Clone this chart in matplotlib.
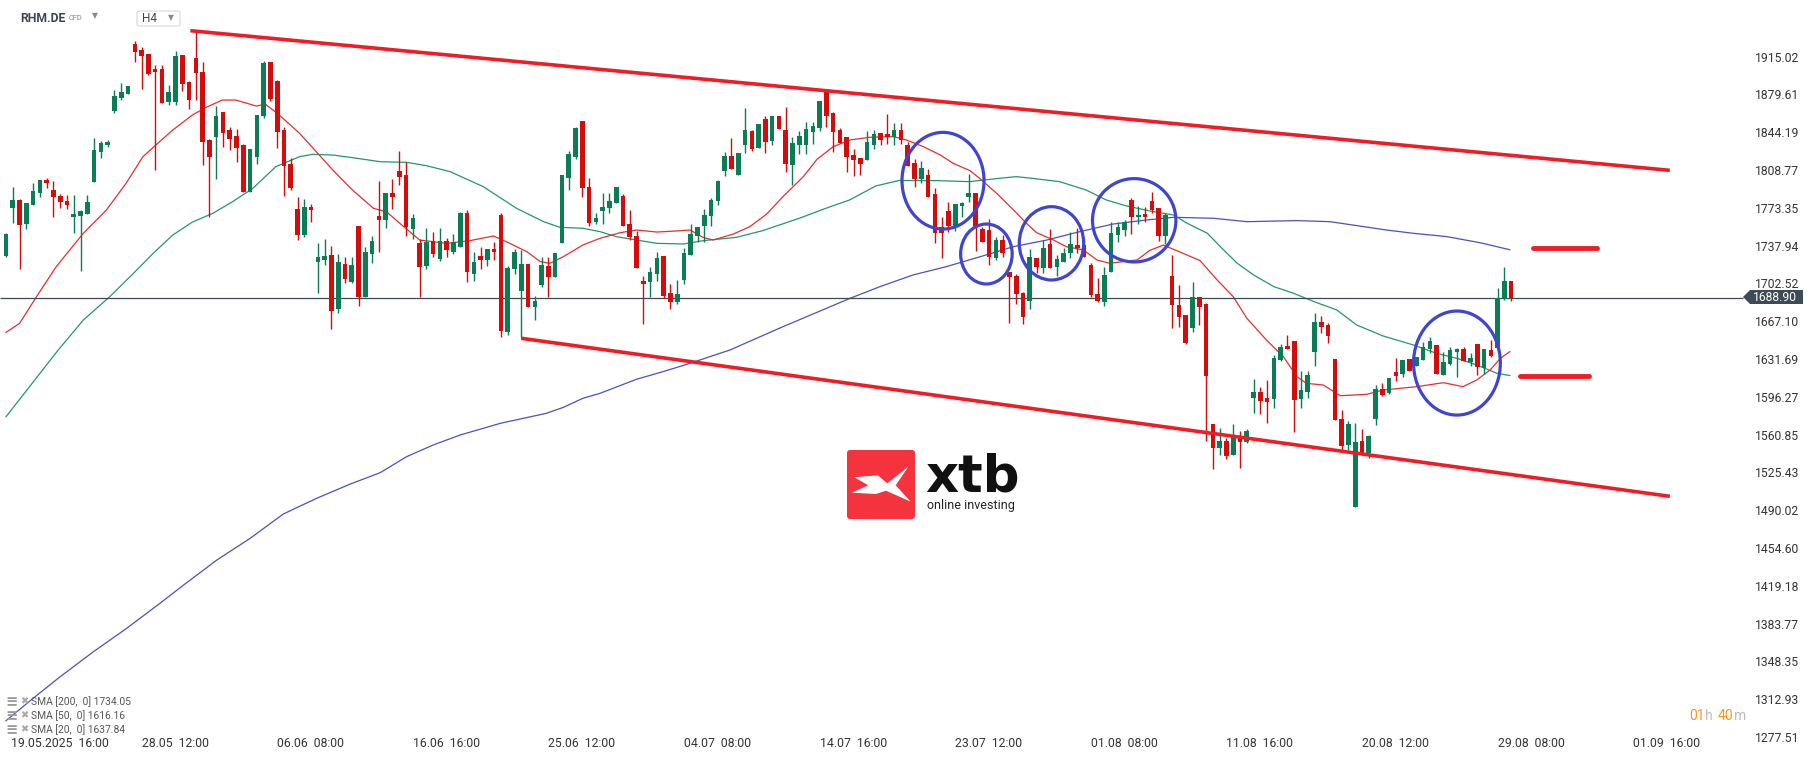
import matplotlib
matplotlib.use('Agg')
import matplotlib.pyplot as plt
from matplotlib.patches import Ellipse, Polygon, FancyBboxPatch
from matplotlib.transforms import IdentityTransform, ScaledTranslation

W, H = 1815, 761

# --- candles (H4) ---------------------------------------------------------
opens = [
    1728.5, 1773.5, 1780.7, 1758.5, 1776.3, 1787.6, 1799.4, 1790.1, 1784.5, 1779.8,
    1765.1, 1766.0, 1767.9, 1797.9, 1825.4, 1832.6, 1864.4, 1876.6, 1880.4, 1926.9,
    1921.3, 1917.5, 1903.2, 1903.5, 1872.9, 1872.9, 1916.6, 1891.3, 1913.8, 1900.7,
    1837.2, 1840.1, 1862.9, 1846.3, 1840.7, 1832.6, 1788.5, 1821.3, 1859.4, 1910.0,
    1892.2, 1846.3, 1814.4, 1772.3, 1747.9, 1774.1, 1722.9, 1724.5, 1729.2, 1678.2,
    1720.4, 1704.2, 1756.3, 1689.5, 1729.8, 1765.7, 1762.0, 1787.6, 1807.9, 1804.1,
    1753.2, 1740.7, 1719.2, 1742.0, 1725.1, 1742.3, 1732.0, 1737.0, 1768.2, 1711.4,
    1728.3, 1724.5, 1734.8, 1766.7, 1657.3, 1716.4, 1695.8, 1720.8, 1680.8, 1701.1,
    1718.9, 1708.9, 1740.8, 1801.7, 1820.7, 1855.1, 1792.6, 1760.4, 1770.7, 1773.6,
    1778.2, 1784.5, 1758.2, 1747.0, 1704.8, 1703.6, 1711.1, 1728.3, 1693.3, 1685.5,
    1705.8, 1729.5, 1747.3, 1756.7, 1766.1, 1780.1, 1808.2, 1822.0, 1804.2, 1832.6,
    1845.4, 1829.2, 1856.3, 1836.0, 1859.5, 1846.3, 1813.5, 1832.3, 1832.3, 1844.8,
    1847.9, 1883.8, 1862.0, 1846.3, 1839.5, 1822.9, 1819.8, 1818.2, 1832.3, 1843.8,
    1842.6, 1840.1, 1846.3, 1832.3, 1815.1, 1800.7, 1804.2, 1786.4, 1755.7, 1770.4,
    1755.7, 1775.4, 1783.9, 1787.0, 1753.2, 1752.6, 1726.1, 1743.2, 1713.6, 1709.5,
    1693.9, 1686.4, 1726.1, 1717.3, 1739.5, 1717.6, 1723.0, 1730.8, 1738.6, 1738.6,
    1719.8, 1692.3, 1685.5, 1713.6, 1747.9, 1752.6, 1780.7, 1764.5, 1767.6, 1780.1,
    1772.9, 1747.3, 1709.5, 1682.3, 1673.0, 1660.5, 1689.5, 1683.3, 1570.8, 1548.6,
    1555.2, 1541.7, 1559.5, 1554.2, 1595.5, 1600.5, 1594.8, 1594.5, 1630.8, 1643.9,
    1648.6, 1594.2, 1601.1, 1638.6, 1666.1, 1663.6, 1631.7, 1575.5, 1551.1, 1493.3,
    1555.2, 1543.3, 1575.5, 1603.3, 1599.5, 1619.8, 1617.6, 1631.4, 1625.5, 1630.8,
    1640.8, 1644.8, 1616.7, 1627.0, 1638.6, 1641.1, 1628.6, 1645.4, 1623.0, 1640.1,
    1641.7, 1688.0, 1704.8,
]
highs = [
    1750.0, 1793.2, 1781.6, 1778.2, 1796.6, 1799.4, 1801.3, 1798.5, 1786.3, 1785.4,
    1785.4, 1771.3, 1785.4, 1838.8, 1835.7, 1836.9, 1883.8, 1890.0, 1887.5, 1929.7,
    1924.4, 1917.5, 1907.2, 1907.2, 1888.8, 1920.0, 1916.6, 1892.5, 1939.4, 1910.0,
    1838.2, 1868.8, 1862.9, 1849.4, 1847.6, 1833.2, 1828.5, 1860.1, 1911.0, 1910.0,
    1893.2, 1848.8, 1820.1, 1783.2, 1781.6, 1776.9, 1740.1, 1744.5, 1737.9, 1730.1,
    1727.6, 1727.6, 1756.3, 1736.3, 1747.0, 1798.5, 1787.6, 1800.4, 1826.6, 1816.6,
    1767.3, 1744.5, 1754.2, 1750.4, 1754.2, 1744.8, 1748.9, 1769.8, 1771.4, 1732.0,
    1736.4, 1734.8, 1741.1, 1768.2, 1718.9, 1734.8, 1733.9, 1720.8, 1690.8, 1727.6,
    1727.6, 1730.8, 1804.2, 1827.0, 1849.5, 1855.1, 1801.4, 1768.9, 1787.0, 1787.0,
    1792.6, 1786.4, 1771.4, 1752.0, 1709.8, 1718.3, 1732.0, 1728.3, 1702.0, 1705.8,
    1735.4, 1758.2, 1755.4, 1772.0, 1782.3, 1799.5, 1825.7, 1838.5, 1824.8, 1866.6,
    1846.3, 1852.0, 1859.5, 1859.5, 1859.5, 1868.2, 1839.5, 1845.7, 1854.2, 1854.2,
    1873.5, 1883.8, 1863.5, 1847.9, 1840.1, 1828.2, 1819.8, 1845.7, 1846.3, 1843.8,
    1861.0, 1853.2, 1853.2, 1835.4, 1819.2, 1817.3, 1809.5, 1791.7, 1765.1, 1779.2,
    1777.0, 1778.9, 1804.8, 1787.0, 1755.7, 1762.6, 1745.7, 1747.9, 1713.6, 1711.1,
    1694.8, 1734.5, 1726.1, 1743.2, 1753.2, 1729.2, 1736.1, 1751.1, 1754.2, 1738.6,
    1722.0, 1707.3, 1717.6, 1760.4, 1760.4, 1762.0, 1782.3, 1775.1, 1773.9, 1788.5,
    1772.9, 1768.2, 1729.2, 1701.1, 1673.0, 1704.2, 1689.5, 1684.5, 1570.8, 1566.7,
    1557.4, 1570.8, 1564.2, 1565.8, 1613.0, 1605.8, 1612.0, 1635.4, 1645.4, 1654.2,
    1648.6, 1620.5, 1620.5, 1674.5, 1672.0, 1665.8, 1631.7, 1583.9, 1573.6, 1572.0,
    1565.8, 1560.5, 1607.3, 1608.9, 1614.2, 1632.3, 1630.8, 1631.4, 1633.9, 1647.3,
    1652.6, 1644.8, 1637.9, 1642.6, 1641.7, 1642.6, 1637.0, 1645.4, 1641.1, 1649.5,
    1697.9, 1717.6, 1704.8,
]
lows = [
    1727.0, 1759.5, 1715.7, 1753.8, 1775.7, 1783.2, 1792.3, 1765.1, 1773.5, 1772.0,
    1749.5, 1714.5, 1767.3, 1797.9, 1819.8, 1830.1, 1861.9, 1874.7, 1879.7, 1910.3,
    1885.0, 1897.9, 1808.8, 1871.9, 1869.4, 1869.4, 1883.2, 1866.3, 1874.1, 1813.8,
    1765.1, 1800.7, 1830.1, 1827.6, 1816.6, 1787.9, 1788.5, 1814.4, 1857.9, 1873.5,
    1829.8, 1784.5, 1790.1, 1743.2, 1746.3, 1760.1, 1693.9, 1719.8, 1660.1, 1675.1,
    1702.6, 1702.6, 1681.7, 1689.5, 1721.3, 1731.7, 1754.8, 1772.3, 1794.8, 1747.3,
    1744.2, 1690.1, 1716.4, 1727.6, 1723.9, 1727.0, 1730.1, 1736.4, 1704.2, 1705.1,
    1716.1, 1719.2, 1724.5, 1652.6, 1654.2, 1711.4, 1651.1, 1680.8, 1668.3, 1698.9,
    1689.5, 1708.9, 1740.8, 1790.1, 1819.2, 1783.9, 1756.4, 1758.2, 1758.2, 1768.2,
    1777.6, 1756.7, 1743.2, 1717.3, 1664.2, 1690.1, 1705.1, 1688.6, 1678.9, 1683.3,
    1702.0, 1729.5, 1741.7, 1741.7, 1756.7, 1776.0, 1803.5, 1809.8, 1804.2, 1825.1,
    1827.0, 1829.2, 1824.5, 1832.6, 1847.3, 1807.3, 1794.5, 1823.9, 1823.9, 1833.2,
    1845.4, 1849.5, 1826.0, 1833.8, 1807.3, 1803.2, 1804.2, 1818.2, 1828.5, 1832.3,
    1832.9, 1832.3, 1833.2, 1812.6, 1792.6, 1796.4, 1783.9, 1740.8, 1726.7, 1751.1,
    1752.0, 1765.1, 1779.2, 1733.3, 1741.7, 1719.5, 1724.5, 1727.6, 1665.1, 1682.9,
    1664.2, 1678.3, 1712.0, 1712.6, 1717.3, 1709.8, 1722.3, 1726.1, 1731.4, 1727.6,
    1690.1, 1685.5, 1681.7, 1713.6, 1741.7, 1747.0, 1748.9, 1758.2, 1760.4, 1768.2,
    1742.6, 1739.5, 1660.5, 1661.4, 1645.8, 1657.3, 1663.6, 1555.2, 1528.3, 1541.7,
    1537.7, 1541.7, 1529.2, 1552.7, 1581.4, 1579.8, 1572.0, 1586.1, 1630.1, 1640.8,
    1563.6, 1585.5, 1594.8, 1625.1, 1655.8, 1646.4, 1574.5, 1546.4, 1546.4, 1493.3,
    1542.7, 1538.6, 1569.9, 1597.0, 1598.6, 1611.4, 1614.5, 1620.8, 1625.1, 1630.8,
    1637.0, 1617.6, 1616.7, 1626.1, 1615.1, 1630.1, 1625.1, 1616.7, 1617.6, 1633.9,
    1641.7, 1687.0, 1686.4,
]
closes = [
    1748.8, 1780.7, 1757.6, 1777.6, 1788.8, 1799.4, 1796.9, 1783.8, 1779.1, 1776.3,
    1767.6, 1770.4, 1778.8, 1827.6, 1834.1, 1835.1, 1878.2, 1881.9, 1887.5, 1919.7,
    1916.0, 1898.8, 1901.0, 1871.9, 1881.9, 1916.0, 1889.7, 1874.7, 1899.4, 1835.4,
    1821.3, 1859.4, 1843.8, 1838.2, 1829.8, 1787.9, 1828.5, 1860.1, 1909.1, 1875.0,
    1844.7, 1812.9, 1792.3, 1747.9, 1774.1, 1771.6, 1727.3, 1728.2, 1677.0, 1722.6,
    1706.4, 1719.8, 1689.5, 1732.0, 1742.3, 1762.0, 1787.6, 1783.8, 1802.6, 1755.1,
    1764.1, 1718.2, 1741.7, 1730.4, 1742.0, 1733.8, 1741.4, 1768.9, 1713.6, 1722.3,
    1724.8, 1734.8, 1732.0, 1658.3, 1716.7, 1732.0, 1720.8, 1680.8, 1686.1, 1719.8,
    1708.9, 1730.8, 1804.2, 1823.9, 1848.5, 1792.3, 1759.5, 1763.9, 1774.5, 1779.8,
    1792.6, 1756.7, 1745.7, 1717.3, 1702.3, 1712.9, 1726.4, 1691.1, 1685.5, 1692.6,
    1731.4, 1748.9, 1755.4, 1766.7, 1780.7, 1798.5, 1822.0, 1809.8, 1824.8, 1846.3,
    1828.2, 1852.0, 1835.4, 1859.5, 1847.3, 1814.5, 1834.5, 1840.7, 1847.3, 1850.1,
    1873.5, 1859.5, 1844.2, 1833.8, 1821.3, 1818.2, 1814.5, 1835.4, 1842.6, 1837.0,
    1839.5, 1846.3, 1837.0, 1812.6, 1800.7, 1810.4, 1783.9, 1750.1, 1749.5, 1756.4,
    1777.0, 1777.9, 1787.3, 1756.7, 1741.7, 1727.0, 1743.2, 1731.4, 1708.3, 1692.3,
    1670.8, 1727.0, 1718.3, 1735.4, 1717.3, 1725.1, 1730.8, 1739.5, 1735.4, 1727.6,
    1691.7, 1686.4, 1710.5, 1749.5, 1755.7, 1760.4, 1764.5, 1766.7, 1765.1, 1771.4,
    1747.3, 1766.7, 1682.0, 1671.4, 1646.4, 1689.5, 1680.8, 1615.8, 1548.6, 1555.2,
    1541.1, 1560.5, 1554.2, 1564.2, 1600.5, 1592.7, 1591.7, 1632.6, 1642.6, 1641.4,
    1593.3, 1602.6, 1616.7, 1666.7, 1662.0, 1653.3, 1574.5, 1550.2, 1570.8, 1553.9,
    1543.3, 1559.5, 1603.3, 1598.0, 1613.6, 1616.1, 1630.8, 1620.8, 1633.9, 1642.6,
    1648.6, 1617.6, 1628.6, 1640.1, 1641.1, 1630.1, 1632.3, 1623.9, 1641.1, 1634.5,
    1689.2, 1704.8, 1688.9,
]

# --- moving averages (candle index, value) ----------------------------------
sma20_x = [1, 3, 5.5, 8.4, 12.4, 15.8, 18.7, 21.2, 23.1, 25.6, 28.5, 30.5, 32.9,
           34.9, 37.9, 39.3, 41.3, 44.3, 47.2, 49.2, 52.1, 55.2, 57.1, 59.1, 62,
           66, 69.4, 72.9, 75.3, 77.8, 79.8, 81.2, 83.2, 86.1, 88.6, 91.6, 94,
           97, 99.9, 101.9, 103.8, 105.3, 108.3, 110.7, 113.2, 115.6, 118.6,
           120.6, 123, 125.5, 128.4, 131.9, 133.8, 136.3, 138.8, 140.7, 143.2,
           144.6, 147.1, 149.6, 151.5, 153, 155.5, 157.4, 159.9, 161.9, 163.8,
           165.8, 167.8, 169.7, 171.7, 174.6, 177.1, 179.6, 182, 184, 186.9,
           189.4, 191.4, 192.8, 195.3, 197.8, 201.7, 204.1, 209.1, 213, 215.9,
           217.9, 219.9, 221.4, 222.8]
sma20_y = [1656.7, 1665.1, 1690.1, 1718.2, 1749.5, 1771.3, 1796.3, 1821.3, 1832.3,
           1846.3, 1860.4, 1867.5, 1874.4, 1874.4, 1868.8, 1870.4, 1860.4, 1843.2,
           1822.9, 1808.8, 1790.1, 1772.9, 1769.8, 1758.8, 1743.2, 1740.1, 1742.6,
           1747.0, 1740.1, 1732.3, 1723.0, 1721.4, 1727.6, 1738.6, 1744.8, 1750.1,
           1752.6, 1750.7, 1751.7, 1752.6, 1745.7, 1743.2, 1748.9, 1755.7, 1767.6,
           1783.9, 1802.6, 1818.8, 1830.7, 1837.0, 1839.5, 1840.1, 1837.0, 1830.7,
           1822.9, 1815.1, 1808.2, 1801.0, 1787.0, 1771.4, 1758.9, 1750.1, 1743.2,
           1737.0, 1733.9, 1724.5, 1721.4, 1723.0, 1724.5, 1733.5, 1738.5, 1730.7,
           1724.0, 1706.0, 1690.1, 1670.0, 1649.5, 1633.9, 1615.1, 1608.9, 1607.3,
           1597.3, 1598.6, 1602.6, 1605.8, 1609.5, 1605.8, 1612.0, 1621.4, 1632.3,
           1638.6]

sma50_x = [1, 8.7, 12.4, 16.3, 19.8, 22.7, 25.6, 28.5, 31.5, 34.4, 37.4, 40.8,
           44.3, 46.2, 49.2, 52.1, 56.2, 60.1, 63, 66.5, 71.4, 76.3, 80.3, 82.7,
           86.1, 88.6, 91, 94, 97, 100.9, 103.8, 108.7, 112.6, 118, 121.9, 125.4,
           129.3, 132.7, 138.1, 143.1, 147, 150, 152.4, 156.4, 160.3, 163.3,
           166.3, 170.2, 173.2, 175.2, 178.2, 180.1, 182.6, 185, 188, 190.9,
           193.9, 197.3, 200.2, 204.1, 208.6, 212, 215, 217.9, 220.9, 222.8]
sma50_y = [1577.6, 1640.1, 1668.2, 1690.1, 1712.0, 1730.7, 1747.9, 1760.1, 1768.2,
           1779.1, 1791.6, 1812.0, 1821.3, 1823.5, 1822.9, 1820.4, 1816.6, 1816.0,
           1812.9, 1807.3, 1793.2, 1772.9, 1760.4, 1755.1, 1754.2, 1751.1, 1746.4,
           1743.2, 1740.1, 1739.5, 1742.6, 1745.7, 1752.0, 1763.6, 1772.9, 1780.7,
           1793.9, 1799.0, 1798.9, 1797.9, 1800.7, 1802.6, 1801.0, 1797.9, 1790.1,
           1780.7, 1775.1, 1769.8, 1766.7, 1758.9, 1749.5, 1737.0, 1721.4, 1710.5,
           1699.5, 1693.3, 1685.5, 1677.6, 1663.6, 1653.3, 1644.8, 1637.0, 1632.3,
           1626.1, 1618.3, 1616.2]

sma200_x = [1, 5, 9, 13.9, 18.8, 23.7, 27.2, 32.1, 37, 41.9, 46.8, 51.7, 56.2,
            60.1, 64, 68, 73.9, 80.7, 83.2, 86.1, 88.6, 94, 98.4, 101.9, 107.8,
            115.6, 125.5, 129.9, 134.8, 139.7, 144.7, 149.6, 154.5, 159.4, 164.3,
            169.2, 173.2, 179.1, 184, 191.4, 196.3, 204.6, 208.6, 213.5, 218.4,
            222.8]
sma200_y = [1292.7, 1313.7, 1334.0, 1357.4, 1379.3, 1402.7, 1419.9, 1443.3,
            1463.6, 1486.4, 1501.1, 1514.3, 1525.2, 1540.2, 1551.1, 1560.5,
            1571.4, 1580.8, 1586.4, 1594.9, 1599.5, 1612.7, 1620.8, 1627.7,
            1640.2, 1662.0, 1688.6, 1699.5, 1710.5, 1718.3, 1727.6, 1737.0,
            1743.2, 1751.1, 1758.2, 1762.0, 1764.5, 1763.6, 1760.4, 1761.4,
            1760.4, 1752.6, 1749.5, 1746.4, 1740.7, 1734.1]

legend_rows = ['SMA [200,  0] 1734.05', 'SMA [50,  0] 1616.16', 'SMA [20,  0] 1637.84']

# --- axes labels -------------------------------------------------------------
price_ticks = [1915.02, 1879.61, 1844.19, 1808.77, 1773.35, 1737.94, 1702.52,
               1667.10, 1631.69, 1596.27, 1560.85, 1525.43, 1490.02, 1454.60,
               1419.18, 1383.77, 1348.35, 1312.93, 1277.51]
date_ticks = [1, 21, 41, 61, 81, 101, 121, 141, 161, 181, 201, 221, 241]
date_labels = ['19.05.2025  16:00', '28.05  12:00', '06.06  08:00', '16.06  16:00',
               '25.06  12:00', '04.07  08:00', '14.07  16:00', '23.07  12:00',
               '01.08  08:00', '11.08  16:00', '20.08  12:00', '29.08  08:00',
               '01.09  16:00']
last_price = 1688.90

# --- drawings on the chart ---------------------------------------------------
upper_trend_x, upper_trend_y = [28.2, 246.4], [1939.4, 1808.5]
lower_trend_x, lower_trend_y = [77, 246.4], [1651.1, 1503.0]
level_lines = [(226.2, 235.6, 1735.4), (224.3, 234.5, 1616.1)]
circles = [(139.2, 1798.8, 12.1, 90.6), (145.6, 1730.1, 7.6, 56.2),
           (155.2, 1740.1, 9.5, 68.7), (167.4, 1761.7, 12.3, 78.1),
           (215.0, 1627.9, 12.8, 97.5)]

GREEN = '#0a7d55'
RED = '#d40c0c'


def fx(x):
    return x / W


def fy(y):
    return 1 - y / H


def main():
    plt.rcParams['font.family'] = ['Roboto', 'DejaVu Sans']

    fig = plt.figure(figsize=(W / 100, H / 100), dpi=100)
    ax = fig.add_axes([0, 0, 1, 1])
    ax.set_xlim(0.115, 267.81)
    ax.set_ylim(1254.94, 1968.16)
    for s in ax.spines.values():
        s.set_visible(False)

    # moving averages
    ax.plot(sma200_x, sma200_y, color='#4d50b8', lw=0.9, zorder=2)
    ax.plot(sma50_x, sma50_y, color='#25966a', lw=0.9, zorder=2)
    ax.plot(sma20_x, sma20_y, color='#e2302f', lw=0.9, zorder=2)

    # candles
    xs = list(range(1, len(opens) + 1))
    colors = [GREEN if c >= o else RED for o, c in zip(opens, closes)]
    bottoms = [min(o, c) for o, c in zip(opens, closes)]
    heights = [max(abs(c - o), 1.3) for o, c in zip(opens, closes)]
    ax.vlines(xs, lows, highs, colors=colors, lw=1.0, zorder=3)
    ax.bar(xs, heights, bottom=bottoms, width=0.68, color=colors, lw=0, zorder=3.1)

    # last price line
    ax.hlines(last_price, 0.115, 257.2, color='#3d4a56', lw=0.9, zorder=2.5)

    # trend channel, levels and circles
    ax.plot(upper_trend_x, upper_trend_y, color='#ef1c26', lw=2.6,
            solid_capstyle='butt', zorder=4)
    ax.plot(lower_trend_x, lower_trend_y, color='#ef1c26', lw=2.6,
            solid_capstyle='butt', zorder=4)
    for x0, x1, lvl in level_lines:
        ax.plot([x0, x1], [lvl, lvl], color='#ef1c26', lw=3.5,
                solid_capstyle='round', zorder=4)
    for cx, cy, w, h in circles:
        ax.add_patch(Ellipse((cx, cy), w, h, fill=False, ec='#3f45cd',
                             lw=2.3, zorder=5))

    # price axis on the right, inside the frame
    ax.yaxis.tick_right()
    ax.set_yticks(price_ticks, [f'{v:.2f}' for v in price_ticks])
    ax.tick_params(axis='y', length=0, pad=-43, labelsize=8.7,
                   labelcolor='#333333')

    # time axis at the bottom, inside the frame
    ax.set_xticks(date_ticks, date_labels)
    ax.tick_params(axis='x', length=0, pad=-17, labelsize=8.8,
                   labelcolor='#333333')
    for t in ax.get_xticklabels():
        t.set_ha('left')
    first = ax.get_xticklabels()[0]
    first.set_transform(first.get_transform() +
                        ScaledTranslation(5 / 100, 0, fig.dpi_scale_trans))

    # last price tag
    tag = Polygon([(1743, H - 297), (1750, H - 290), (1803, H - 290),
                   (1803, H - 304), (1750, H - 304)],
                  closed=True, fc='#3d4b57', ec='none',
                  transform=IdentityTransform())
    fig.add_artist(tag)
    fig.text(fx(1753), fy(297), f'{last_price:.2f}', color='white',
             fontsize=8.7, va='center', ha='left')

    # header
    fig.text(fx(20), fy(18.5), 'RHM.DE', fontsize=8.8, fontweight='bold',
             color='#3b4753', va='center')
    fig.text(fx(69), fy(19), 'CFD', fontsize=5.3, color='#888888', va='center')
    fig.text(fx(92), fy(15.5), '▼', fontsize=5.5, color='#8a8a8a', va='center',
             family='DejaVu Sans')
    box = FancyBboxPatch((137, H - 26), 43, 15,
                         boxstyle='round,pad=0,rounding_size=2',
                         fc='white', ec='#d9d9d9', lw=0.8,
                         transform=IdentityTransform())
    fig.add_artist(box)
    fig.text(fx(142), fy(19), 'H4', fontsize=8.5, color='#454545', va='center')
    fig.text(fx(168), fy(17.5), '▼', fontsize=5.5, color='#8a8a8a', va='center',
             family='DejaVu Sans')

    # indicator legend bottom-left
    for k, row in enumerate(legend_rows):
        yy = 701.7 + k * 13.8
        fig.text(fx(5), fy(yy), '≡', fontsize=10.5, color='#9a9a9a',
                 va='center', family='DejaVu Sans', fontweight='bold')
        fig.text(fx(20), fy(yy), '✖', fontsize=7, color='#a8a8a8',
                 va='center', family='DejaVu Sans')
        fig.text(fx(31.5), fy(yy), row, fontsize=7.4, color='#555555',
                 va='center')

    # candle timer
    for x, s, c in [(1689, '01', '#f7941d'), (1705, 'h', '#bdbdbd'),
                    (1718, '40', '#f7941d'), (1734, 'm', '#bdbdbd')]:
        fig.text(fx(x), fy(716), s, fontsize=10, color=c, va='center')

    # xtb watermark
    logo = FancyBboxPatch((847, H - 519), 68, 69,
                          boxstyle='round,pad=0,rounding_size=3',
                          fc='#f4333f', ec='none',
                          transform=IdentityTransform())
    fig.add_artist(logo)
    xmark = [(854.3, 477.3), (877.7, 475.3), (887.3, 483.3), (908.3, 466.7),
             (895.7, 485.3), (910.7, 501.7), (886, 490.7), (876, 494),
             (851.7, 492.7), (868.3, 485.3)]
    fig.add_artist(Polygon([(x, H - y) for x, y in xmark], closed=True,
                           fc='white', ec='none',
                           transform=IdentityTransform()))
    fig.text(fx(925), fy(491.7), 'xtb', fontsize=37, fontweight='heavy',
             color='#111111', va='baseline', family='DejaVu Sans')
    fig.text(fx(927), fy(506), 'online investing', fontsize=9,
             color='#222222', va='center')

    fig.savefig('out.png', dpi=100, facecolor='white')


if __name__ == '__main__':
    main()
